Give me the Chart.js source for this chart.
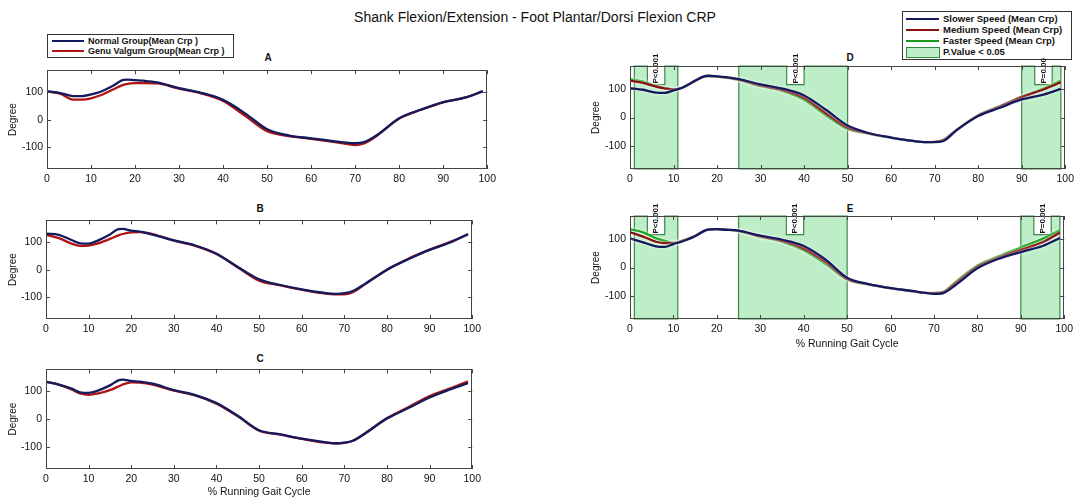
<!DOCTYPE html>
<html>
<head>
<meta charset="utf-8">
<script src="https://cdn.jsdelivr.net/npm/chart.js@4"></script>
<style>
body{margin:0;background:#fff;width:1078px;height:498px;position:relative;overflow:hidden;font-family:"Liberation Sans",Arial,sans-serif;color:#111}
canvas{position:absolute}
.t{position:absolute;white-space:nowrap}
.letter{width:40px;text-align:center;font-weight:bold;font-size:10px;line-height:12px}
.legend{position:absolute;border:1px solid #333;background:#fff;font-weight:bold;font-size:9px}
.row{position:absolute;left:0;height:10px;line-height:10px;white-space:nowrap}
.sw{position:absolute;left:3px;top:4px;width:33px;height:2px}
.lab{position:absolute;left:40px;top:0}
.patch{position:absolute;left:3px;top:0;width:32px;height:9px;background:#bdeec8;border:1px solid #2f8a3f}
</style>
</head>
<body>

<div class="t" style="left:0;width:1070px;top:9px;text-align:center;font-size:14px">Shank Flexion/Extension - Foot Plantar/Dorsi Flexion CRP</div>

<div class="legend" style="left:47px;top:34px;width:185px;height:22px">
  <div class="row" style="top:1px"><span class="sw" style="left:4px;width:32px;background:#131a5e"></span><span class="lab">Normal Group(Mean Crp )</span></div>
  <div class="row" style="top:11px"><span class="sw" style="left:4px;width:32px;background:#b01414"></span><span class="lab">Genu Valgum Group(Mean Crp )</span></div>
</div>

<div class="legend" style="left:902px;top:11px;width:168px;height:47px;font-size:9.5px">
  <div class="row" style="top:2px"><span class="sw" style="background:#131a5e"></span><span class="lab">Slower Speed (Mean Crp)</span></div>
  <div class="row" style="top:13px"><span class="sw" style="background:#8c0f0f"></span><span class="lab">Medium Speed (Mean Crp)</span></div>
  <div class="row" style="top:24px"><span class="sw" style="background:#1a9c1a"></span><span class="lab">Faster Speed (Mean Crp)</span></div>
  <div class="row" style="top:35px"><span class="patch"></span><span class="lab">P.Value &lt; 0.05</span></div>
</div>

<div class="t letter" style="left:248px;top:52px">A</div>
<div class="t letter" style="left:240px;top:203px">B</div>
<div class="t letter" style="left:240px;top:353px">C</div>
<div class="t letter" style="left:830px;top:52px">D</div>
<div class="t letter" style="left:830px;top:203px">E</div>

<canvas id="chart-a" width="500" height="130" style="left:0;top:60px"></canvas>
<canvas id="chart-b" width="485" height="130" style="left:0;top:210px"></canvas>
<canvas id="chart-c" width="485" height="139" style="left:0;top:359px"></canvas>
<canvas id="chart-d" width="495" height="140" style="left:583px;top:50px"></canvas>
<canvas id="chart-e" width="494" height="150" style="left:583px;top:200px"></canvas>

<script>
// % gait cycle sample positions
const xs = [0, 3, 6, 8, 10, 12, 15, 17, 18, 20, 22, 25, 30, 35, 40, 45, 50, 55, 60, 65, 68, 70, 72, 75, 80, 85, 90, 95, 99];
const xTicks = [0, 10, 20, 30, 40, 50, 60, 70, 80, 90, 100];
const yTicks = [-100, 0, 100];

// A - C : normal vs genu valgum
const aNormal = [103, 97, 86, 86, 92, 101, 124, 143, 146, 144, 142, 136, 115, 98, 72, 23, -35, -58, -68, -78, -84, -86, -82, -56, 5, 37, 64, 80, 104];
const aGenu   = [103, 95, 73, 73, 78, 88, 110, 125, 130, 133, 133, 132, 113, 96, 68, 14, -42, -60, -70, -81, -88, -93, -87, -58, 4, 36, 63, 81, 103];
const bNormal = [131, 127, 108, 96, 95, 105, 128, 148, 149, 142, 139, 128, 107, 88, 58, 10, -35, -56, -72, -84, -88, -86, -78, -50, 0, 38, 72, 100, 130];
const bGenu   = [127, 115, 95, 87, 88, 95, 112, 125, 130, 136, 137, 130, 106, 87, 57, 8, -40, -57, -73, -86, -90, -90, -82, -52, 0, 40, 73, 102, 128];
const cNormal = [135, 125, 110, 97, 95, 102, 122, 140, 143, 138, 135, 128, 105, 87, 58, 12, -40, -55, -70, -82, -87, -85, -78, -50, 2, 40, 78, 108, 130];
const cGenu   = [135, 125, 107, 93, 88, 92, 105, 118, 125, 133, 132, 125, 103, 86, 56, 10, -42, -56, -71, -84, -88, -86, -78, -50, 4, 43, 83, 112, 137];

// D - E : slower / medium / faster speed
const dSlower = [103, 97, 87, 86, 95, 104, 129, 144, 146, 144, 141, 134, 116, 101, 77, 27, -28, -55, -70, -82, -86, -86, -82, -45, 5, 34, 63, 80, 100];
const dMedium = [129, 121, 108, 102, 98, 104, 128, 143, 145, 143, 140, 132, 112, 96, 68, 15, -36, -56, -70, -82, -86, -85, -79, -44, 7, 38, 71, 98, 123];
const dFaster = [134, 125, 110, 102, 98, 104, 128, 143, 145, 143, 139, 131, 110, 93, 62, 8, -40, -57, -71, -82, -86, -85, -78, -43, 8, 40, 73, 101, 129];
const eSlower = [102, 88, 74, 72, 82, 91, 109, 127, 132, 134, 132, 129, 111, 97, 75, 28, -36, -58, -72, -82, -89, -92, -90, -61, -3, 31, 54, 75, 103];
const eMedium = [123, 108, 90, 85, 85, 93, 111, 127, 132, 134, 132, 128, 109, 93, 66, 20, -40, -59, -72, -83, -89, -90, -87, -55, 3, 35, 62, 88, 122];
const eFaster = [134, 123, 102, 93, 86, 93, 111, 127, 132, 134, 132, 127, 107, 90, 60, 13, -42, -60, -72, -83, -89, -89, -86, -50, 7, 40, 70, 100, 130];

// significant regions (P < 0.05) and label notches
const sigRegions = [[1, 11], [25, 50], [90, 99]];
const sigNotches = [[4, 8], [36, 40], [93, 97]];
const dNotchLabels = ['P<0.001', 'P<0.001', 'P=0.00'];
const eNotchLabels = ['P<0.001', 'P<0.001', 'P=0.001'];

const NAVY = '#131a5e', RED = '#b01414', DRED = '#8c0f0f', GREEN = '#17a317';

Chart.defaults.font.family = '"Liberation Sans", Arial, sans-serif';
Chart.defaults.color = '#111';

const matlabBox = {
  id: 'matlabBox',
  beforeDatasetsDraw(chart, args, opts) {
    if (!opts.regions) return;
    const {ctx, chartArea: a, scales: {x, y}} = chart;
    const ny = y.getPixelForValue(115);
    ctx.save();
    opts.regions.forEach(function(r, i) {
      const x0 = x.getPixelForValue(r[0]), x1 = x.getPixelForValue(r[1]);
      const n0 = x.getPixelForValue(opts.notches[i][0]), n1 = x.getPixelForValue(opts.notches[i][1]);
      ctx.beginPath();
      ctx.moveTo(x0, a.bottom);
      ctx.lineTo(x0, a.top);
      ctx.lineTo(n0, a.top);
      ctx.lineTo(n0, ny);
      ctx.lineTo(n1, ny);
      ctx.lineTo(n1, a.top);
      ctx.lineTo(x1, a.top);
      ctx.lineTo(x1, a.bottom);
      ctx.closePath();
      ctx.fillStyle = '#bdeec8';
      ctx.fill();
      ctx.strokeStyle = '#3a8a48';
      ctx.lineWidth = 1.2;
      ctx.stroke();

      ctx.save();
      ctx.translate((n0 + n1) / 2, ny - 1);
      ctx.rotate(-Math.PI / 2);
      ctx.fillStyle = '#111';
      ctx.font = 'bold 8px "Liberation Sans", Arial';
      ctx.textAlign = 'left';
      ctx.textBaseline = 'middle';
      ctx.fillText(opts.labels[i], 0, 0);
      ctx.restore();
    });
    ctx.restore();
  },
  beforeDatasetDraw(chart, args, opts) {
    if (!opts.halo) return;
    chart.ctx.save();
    chart.ctx.shadowColor = 'rgba(255,255,255,0.9)';
    chart.ctx.shadowBlur = 3;
  },
  afterDatasetDraw(chart, args, opts) {
    if (!opts.halo) return;
    chart.ctx.restore();
  },
  afterDatasetsDraw(chart) {
    const {ctx, chartArea: a, scales: {x, y}} = chart;
    ctx.save();
    ctx.strokeStyle = '#444';
    ctx.lineWidth = 1;
    ctx.strokeRect(Math.round(a.left) + 0.5, Math.round(a.top) + 0.5, Math.round(a.width) - 1, Math.round(a.height) - 1);
    ctx.beginPath();
    x.ticks.forEach(function(t) {
      const px = Math.round(x.getPixelForValue(t.value)) + 0.5;
      ctx.moveTo(px, a.bottom); ctx.lineTo(px, a.bottom - 4);
      ctx.moveTo(px, a.top); ctx.lineTo(px, a.top + 4);
    });
    y.ticks.forEach(function(t) {
      const py = Math.round(y.getPixelForValue(t.value)) + 0.5;
      ctx.moveTo(a.left, py); ctx.lineTo(a.left + 4, py);
      ctx.moveTo(a.right, py); ctx.lineTo(a.right - 4, py);
    });
    ctx.stroke();
    ctx.restore();
  }
};

function makeChart(id, series, cfg) {
  const sets = series.map(function(s) {
    return {
      data: xs.map(function(v, i) { return {x: v, y: s.values[i]}; }),
      borderColor: s.color,
      borderWidth: 2.3,
      pointRadius: 0,
      cubicInterpolationMode: 'monotone',
      fill: false
    };
  });

  return new Chart(document.getElementById(id), {
    type: 'line',
    data: { datasets: sets },
    options: {
      responsive: false,
      animation: false,
      events: [],
      layout: { padding: { top: cfg.top, right: cfg.right, left: 0, bottom: 0 } },
      plugins: {
        legend: { display: false },
        tooltip: { enabled: false },
        matlabBox: cfg.box || {}
      },
      scales: {
        x: {
          type: 'linear',
          min: 0,
          max: 100,
          grid: { display: false, drawTicks: false },
          border: { display: false },
          afterBuildTicks: function(s) { s.ticks = xTicks.map(function(v) { return {value: v}; }); },
          ticks: { padding: 4, maxRotation: 0, autoSkip: false, font: { size: 10.5 } },
          title: { display: !!cfg.xTitle, text: '% Running Gait Cycle', padding: 0, font: { size: 10.5 } },
          afterFit: function(s) { s.height = cfg.xh; }
        },
        y: {
          min: -180,
          max: 180,
          grid: { display: false, drawTicks: false },
          border: { display: false },
          afterBuildTicks: function(s) { s.ticks = yTicks.map(function(v) { return {value: v}; }); },
          ticks: { padding: 4, font: { size: 10.5 } },
          title: { display: true, text: 'Degree', padding: { top: 7, bottom: 0 }, font: { size: 10 } },
          afterFit: function(s) { s.width = cfg.yw; }
        }
      }
    },
    plugins: [matlabBox]
  });
}

makeChart('chart-a', [{values: aNormal, color: NAVY}, {values: aGenu, color: RED}], {top: 6, right: 10, xh: 21, yw: 47});
makeChart('chart-b', [{values: bNormal, color: NAVY}, {values: bGenu, color: RED}], {top: 6, right: 11, xh: 21, yw: 46});
makeChart('chart-c', [{values: cNormal, color: NAVY}, {values: cGenu, color: RED}], {top: 6, right: 11, xh: 29, yw: 46, xTitle: true});

makeChart('chart-d', [{values: dSlower, color: NAVY}, {values: dMedium, color: DRED}, {values: dFaster, color: GREEN}],
  {top: 16, right: 8, xh: 21, yw: 47, box: {regions: sigRegions, notches: sigNotches, labels: dNotchLabels, halo: true}});
makeChart('chart-e', [{values: eSlower, color: NAVY}, {values: eMedium, color: DRED}, {values: eFaster, color: GREEN}],
  {top: 16, right: 9, xh: 31, yw: 47, xTitle: true, box: {regions: sigRegions, notches: sigNotches, labels: eNotchLabels, halo: true}});
</script>
</body>
</html>
